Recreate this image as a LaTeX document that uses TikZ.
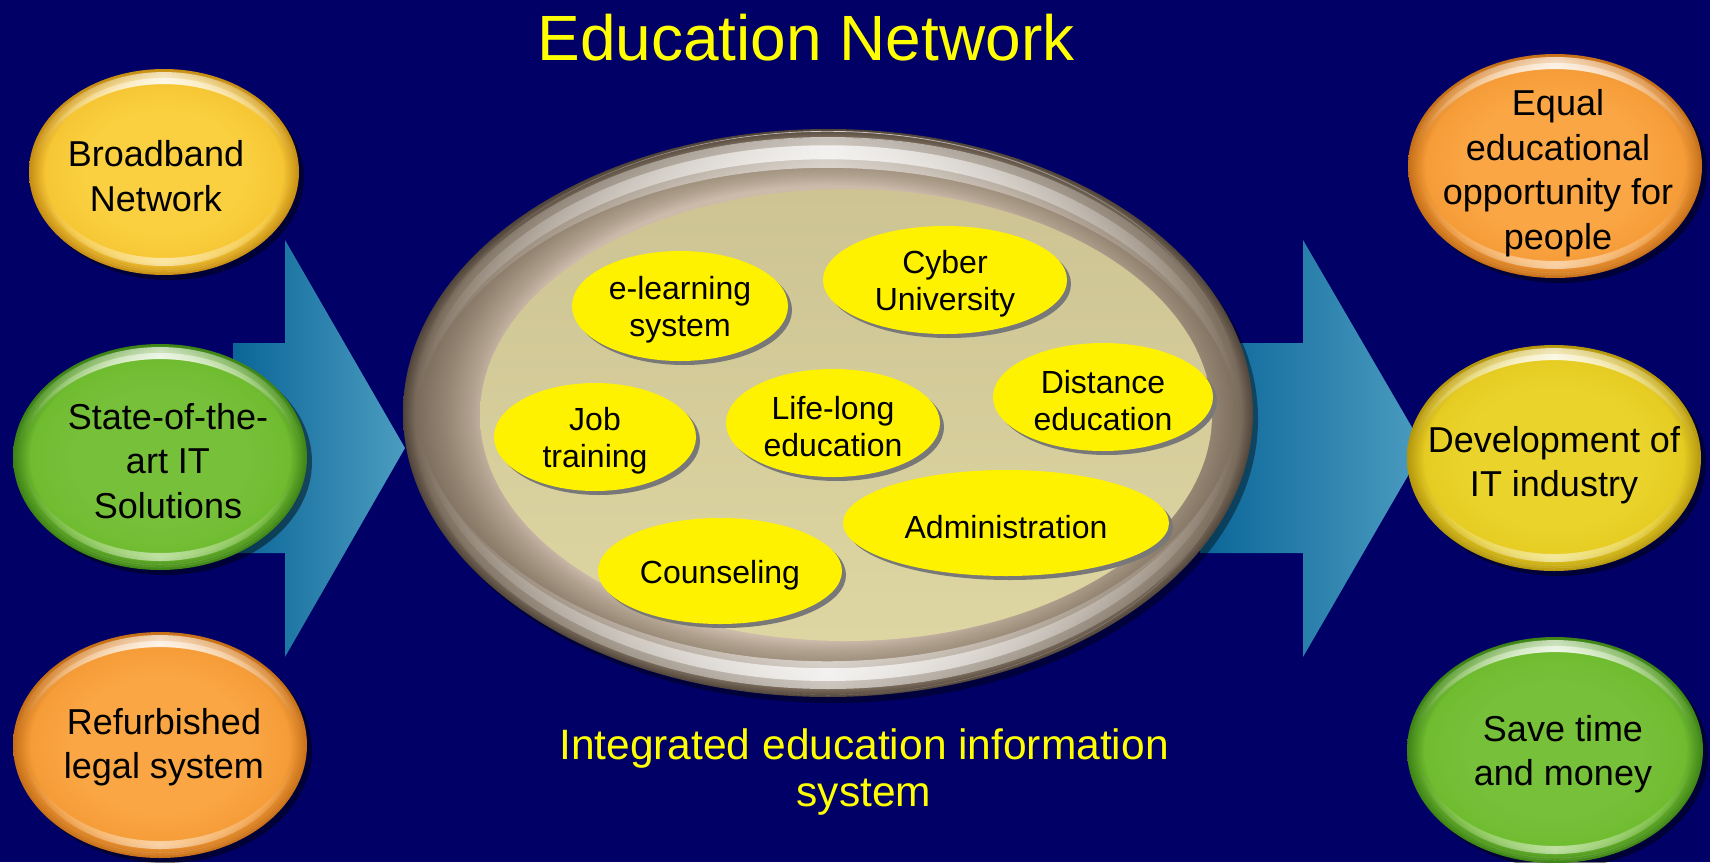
\documentclass[tikz,border=0pt]{standalone}
\usepackage{fontspec}
\setmainfont{Liberation Sans}
\usetikzlibrary{shapes.geometric,fadings}
\definecolor{bgnavy}{RGB}{0,0,102}
\definecolor{titleyellow}{RGB}{255,255,0}
\definecolor{arrowdark}{RGB}{10,102,152}
\definecolor{arrowlight}{RGB}{76,156,192}
% glossy ball colours
\definecolor{yA}{RGB}{250,208,64}\definecolor{yB}{RGB}{246,198,52}\definecolor{yC}{RGB}{196,140,20}
\definecolor{gA}{RGB}{118,192,58}\definecolor{gB}{RGB}{112,188,48}\definecolor{gC}{RGB}{60,130,22}
\definecolor{oA}{RGB}{250,166,68}\definecolor{oB}{RGB}{245,156,56}\definecolor{oC}{RGB}{196,110,24}
\definecolor{lA}{RGB}{234,212,44}\definecolor{lB}{RGB}{230,204,34}\definecolor{lC}{RGB}{180,150,14}
% central ring colours
\definecolor{ringA}{RGB}{204,186,170}\definecolor{ringB}{RGB}{176,160,142}
\definecolor{ringC}{RGB}{148,132,114}\definecolor{ringD}{RGB}{120,106,90}
\definecolor{ringE}{RGB}{80,68,58}
\definecolor{innerA}{RGB}{205,195,147}\definecolor{innerB}{RGB}{221,214,162}
\definecolor{pillshadowc}{RGB}{120,120,120}
% TikZ fits the central 50bp square of a shading to the path: the edge is at 25bp
\pgfdeclareradialshading{ballyellow}{\pgfpoint{0bp}{0bp}}{color(0bp)=(yA); color(15bp)=(yA); color(22bp)=(yB); color(25bp)=(yC); color(50bp)=(yC)}
\pgfdeclareradialshading{ballgreen}{\pgfpoint{0bp}{0bp}}{color(0bp)=(gA); color(15bp)=(gA); color(22bp)=(gB); color(25bp)=(gC); color(50bp)=(gC)}
\pgfdeclareradialshading{ballorange}{\pgfpoint{0bp}{0bp}}{color(0bp)=(oA); color(15bp)=(oA); color(22bp)=(oB); color(25bp)=(oC); color(50bp)=(oC)}
\pgfdeclareradialshading{balllemon}{\pgfpoint{0bp}{0bp}}{color(0bp)=(lA); color(15bp)=(lA); color(22bp)=(lB); color(25bp)=(lC); color(50bp)=(lC)}
\pgfdeclareradialshading{ringshade}{\pgfpoint{0bp}{0bp}}{color(0bp)=(ringA); color(20bp)=(ringA); color(21bp)=(ringB); color(22.5bp)=(ringC); color(24.3bp)=(ringD); color(25bp)=(ringE); color(50bp)=(ringE)}
\tikzfading[name=hmid, left color=transparent!100, right color=transparent!100, middle color=transparent!0]
\tikzset{
  ball/.style={ellipse, inner sep=0pt, draw=none},
  balltext/.style={align=center, text=black, font=\fontsize{36}{44.5}\selectfont},
  pill/.style={ellipse, inner sep=0pt, fill=yellow},
  pilltext/.style={align=center, text=black, font=\fontsize{32}{37}\selectfont},
  pillshadow/.style={fill=pillshadowc},
  bigarrow/.style={left color=arrowdark, right color=arrowlight},
  heading/.style={text=titleyellow, font=\fontsize{64}{72}\selectfont},
  caption/.style={text=titleyellow, align=center, font=\fontsize{42.5}{47}\selectfont},
}
% crescent highlight: centre x, centre y, rx, ry, shift, opacity
\newcommand\crescent[6]{%
  \begin{scope}
    \clip (#1,#2) ellipse [x radius=#3pt, y radius=#4pt];
    \fill[white,opacity=#6,even odd rule,path fading=hmid] (#1,#2) ellipse [x radius=#3pt, y radius=#4pt]
       (#1,#2+#5) ellipse [x radius=#3pt, y radius=#4pt];
  \end{scope}}
\newcommand\glossball[9]{% name, x, y, rx, ry, shading, dx, dy, text
  \fill[black,opacity=0.45] (#2+5,#3+5) ellipse [x radius=#4pt, y radius=#5pt];
  \node[ball, shade, shading=#6, minimum width=2*#4pt, minimum height=2*#5pt] (#1) at (#2,#3) {};
  \crescent{#2}{#3}{#4-3}{#5-3}{12}{0.7}
  \crescent{#2}{#3+2}{#4-8}{#5-7}{6}{0.6}
  \crescent{#2}{#3}{#4-10}{#5-9}{-8}{0.55}
  \node[balltext] (#1-text) at (#2+#7,#3+#8) {#9};
}
\newcommand\pillnode[6]{% name, x, y, rx, ry, text
  \fill[pillshadow] (#2+4,#3+4) ellipse [x radius=#4pt, y radius=#5pt];
  \node[pill, minimum width=2*#4pt, minimum height=2*#5pt] (#1) at (#2,#3) {};
  \node[pilltext] (#1-text) at (#2,#3+4) {#6};
}
\begin{document}
\begin{tikzpicture}[x=1pt,y=-1pt]
\useasboundingbox (0,0) rectangle (1710,862);
\fill[bgnavy] (0,0) rectangle (1710,862);

% title
\node[heading, anchor=base] (title) at (806,60) {Education Network};

% block arrows
\coordinate (la1) at (233,343); \coordinate (la2) at (285,343); \coordinate (la3) at (285,240);
\coordinate (la4) at (405,448); \coordinate (la5) at (285,657); \coordinate (la6) at (285,553);
\coordinate (la7) at (233,553);
\path[bigarrow] (la1) -- (la2) -- (la3) -- (la4) -- (la5) -- (la6) -- (la7) -- cycle;
\coordinate (ra1) at (1200,343); \coordinate (ra2) at (1303,343); \coordinate (ra3) at (1303,240);
\coordinate (ra4) at (1424,448); \coordinate (ra5) at (1303,657); \coordinate (ra6) at (1303,553);
\coordinate (ra7) at (1200,553);
\path[bigarrow] (ra1) -- (ra2) -- (ra3) -- (ra4) -- (ra5) -- (ra6) -- (ra7) -- cycle;

% central platter
\fill[black,opacity=0.4] (833,419) ellipse [x radius=425pt, y radius=284pt];
\path[shade, shading=ringshade] (828,413) ellipse [x radius=425pt, y radius=284pt];
\crescent{828}{413}{417}{276}{30}{0.6}
\crescent{828}{420}{412}{275}{14}{0.75}
\crescent{828}{413}{417}{276}{-28}{0.6}
\crescent{828}{406}{412}{275}{-13}{0.75}
\node[ball, top color=innerA, bottom color=innerB, minimum width=732pt, minimum height=452pt] (platter) at (846,415) {};

% inner items
\pillnode{elearn}{680}{306}{108}{55}{e-learning\\system}
\pillnode{cyber}{945}{280}{122}{54}{Cyber\\University}
\pillnode{distance}{1103}{397}{110}{54}{Distance\\education}
\pillnode{job}{595}{437}{101}{54}{Job\\training}
\pillnode{lifelong}{833}{423}{107}{54}{Life-long\\education}
\pillnode{admin}{1006}{523}{163}{53}{Administration}
\pillnode{counsel}{720}{571}{122}{53}{Counseling}

% caption
\node[caption] (caption) at (864,772) {Integrated education information\\system};

% left balls
\glossball{broadband}{164}{172}{135}{103}{ballyellow}{-8}{4}{Broadband\\Network}
\glossball{stateart}{160}{457}{147}{113}{ballgreen}{8}{4}{State-of-the-\\art IT\\Solutions}
\glossball{legal}{160}{745}{147}{113}{ballorange}{4}{2}{Refurbished\\legal system}

% right balls
\glossball{equal}{1555}{166}{147}{112}{ballorange}{3}{7}{Equal\\educational\\opportunity for\\people}
\glossball{devel}{1554}{458}{147}{113}{balllemon}{0}{7}{Development of\\IT industry}
\glossball{save}{1555}{750}{148}{113}{ballgreen}{8}{4}{Save time\\and money}
\end{tikzpicture}
\end{document}
